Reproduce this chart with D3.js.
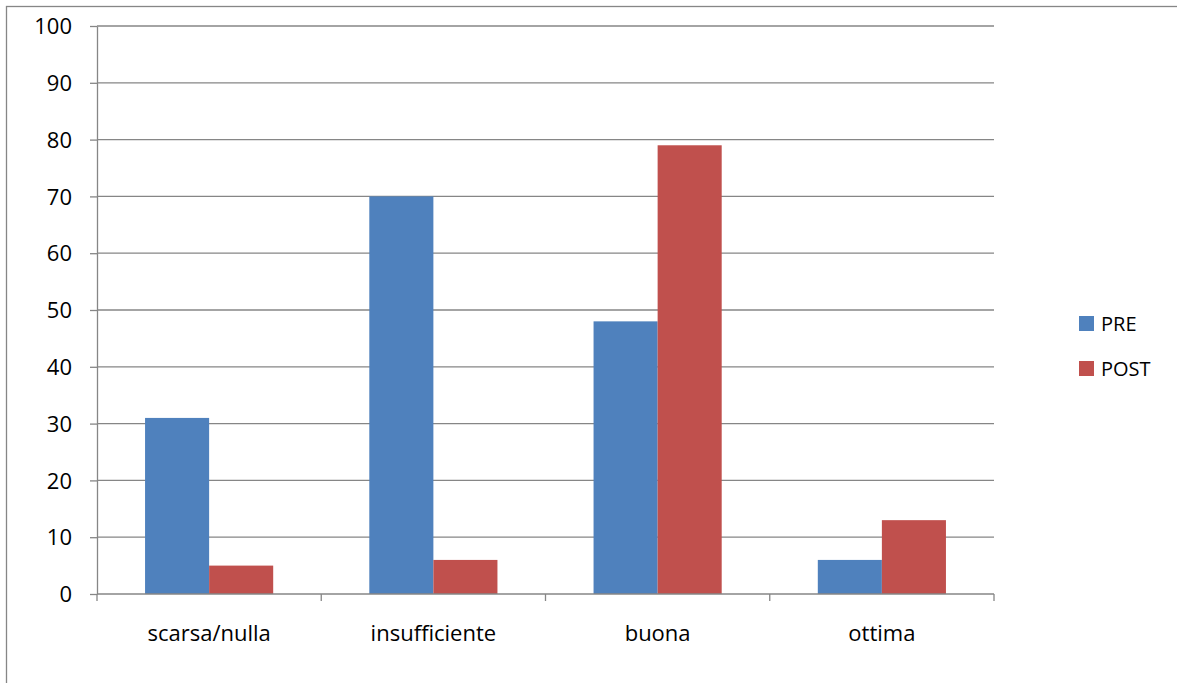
<!DOCTYPE html>
<html lang="en">
<head>
<meta charset="UTF-8">
<title>PRE / POST</title>
<style>
  body { margin: 0; background: #fff; }
  text { font-family: "Open Sans", "Noto Sans", sans-serif; fill: #000; }
  .axis path, .axis line { stroke: #868686; stroke-width: 1.3px; }
</style>
</head>
<body>
<svg width="1177" height="683"></svg>
<script src="https://d3js.org/d3.v7.min.js"></script>
<script>
const categories = ["scarsa/nulla", "insufficiente", "buona", "ottima"];
const seriesNames = ["PRE", "POST"];
const pre = [31, 70, 48, 6];
const post = [5, 6, 79, 13];
const yTicks = [0, 10, 20, 30, 40, 50, 60, 70, 80, 90, 100];
const colors = ["#4F81BD", "#C0504D"];

const svg = d3.select("svg");

// outer chart border
svg.append("rect")
    .attr("x", 6.5).attr("y", 6.5)
    .attr("width", 1200).attr("height", 700)
    .attr("fill", "none")
    .attr("stroke", "#868686")
    .attr("stroke-width", 1.3);

const plotLeft = 97, plotRight = 994, plotTop = 26, plotBottom = 594;

const x = d3.scaleBand().domain(categories).range([plotLeft, plotRight]);
const inner = d3.scaleBand().domain(seriesNames)
    .range([0, x.bandwidth()]).paddingOuter(0.75);
const y = d3.scaleLinear().domain([0, 100]).range([plotBottom, plotTop]);

// gridlines
svg.append("g")
    .selectAll("line")
    .data(yTicks.slice(1))
    .enter().append("line")
    .attr("x1", plotLeft).attr("x2", plotRight)
    .attr("y1", d => y(d)).attr("y2", d => y(d))
    .attr("stroke", "#868686")
    .attr("stroke-width", 1.3);

// bars
const groups = svg.append("g")
    .selectAll("g")
    .data(categories)
    .enter().append("g")
    .attr("transform", d => `translate(${x(d)},0)`);

groups.selectAll("rect")
    .data((d, i) => [pre[i], post[i]].map((v, j) => ({ s: seriesNames[j], v: v, c: colors[j] })))
    .enter().append("rect")
    .attr("x", d => inner(d.s))
    .attr("width", inner.bandwidth())
    .attr("y", d => y(d.v))
    .attr("height", d => plotBottom - y(d.v))
    .attr("fill", d => d.c);

// y axis
const yAxis = svg.append("g")
    .attr("class", "axis")
    .attr("transform", `translate(${plotLeft},0)`)
    .call(d3.axisLeft(y).tickValues(yTicks).tickSize(7).tickSizeOuter(0).tickPadding(18));
yAxis.selectAll("text").style("font-size", "22px").attr("dy", "0.35em");

// x axis with ticks at category boundaries
const xAxis = svg.append("g")
    .attr("class", "axis")
    .attr("transform", `translate(0,${plotBottom})`);
xAxis.append("line")
    .attr("x1", plotLeft).attr("x2", plotRight)
    .attr("y1", 0).attr("y2", 0);
xAxis.selectAll(".bt")
    .data(categories.map(c => x(c)).concat([plotRight]))
    .enter().append("line")
    .attr("class", "bt")
    .attr("x1", d => d).attr("x2", d => d)
    .attr("y1", 0).attr("y2", 7);
xAxis.selectAll("text")
    .data(categories)
    .enter().append("text")
    .attr("x", d => x(d) + x.bandwidth() / 2)
    .attr("y", 47)
    .attr("text-anchor", "middle")
    .style("font-size", "22px")
    .text(d => d);

// legend
const legend = svg.append("g")
    .selectAll("g")
    .data(seriesNames)
    .enter().append("g")
    .attr("transform", (d, i) => `translate(1079,${316 + i * 45})`);
legend.append("rect")
    .attr("width", 15).attr("height", 15)
    .attr("fill", (d, i) => colors[i]);
legend.append("text")
    .attr("x", 22).attr("y", 15)
    .style("font-size", "20px")
    .text(d => d);
</script>
</body>
</html>
